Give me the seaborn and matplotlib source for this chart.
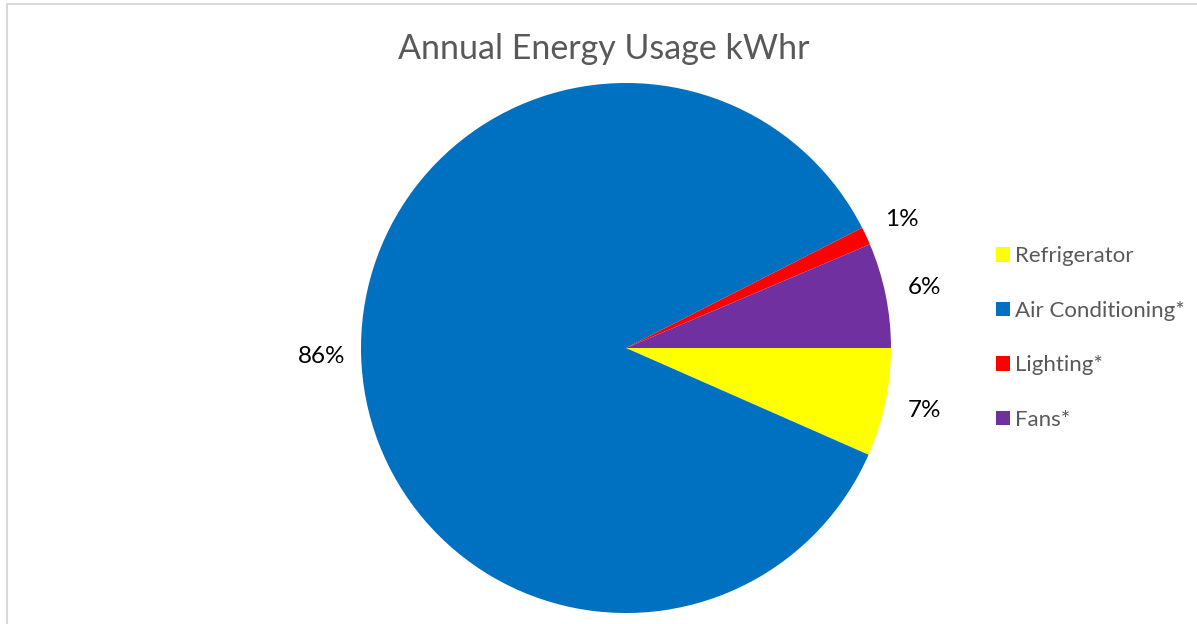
import seaborn as sns
import matplotlib.pyplot as plt
from matplotlib.patches import Patch
from matplotlib.lines import Line2D

# annual energy share (percent of kWhr)
categories = ['Refrigerator', 'Air Conditioning*', 'Lighting*', 'Fans*']
usage = [6.6, 85.9, 1.1, 6.4]
colors = ['#FFFF00', '#0070C0', '#FF0000', '#7030A0']

sns.set_theme(style="white")
plt.rcParams['font.family'] = ['Lato', 'DejaVu Sans']

W, H = 1197, 624
fig = plt.figure(figsize=(W / 100, H / 100), dpi=100)
fig.patch.set_facecolor('white')

# pie centre (626, 348) px, radius 265 px
cx, cy, r = 626, 348, 265
ax = fig.add_axes([(cx - r) / W, (H - cy - r) / H, 2 * r / W, 2 * r / H])
wedges, texts, autotexts = ax.pie(usage, colors=colors, startangle=0, counterclock=False,
                                  autopct='%.0f%%', pctdistance=1.15,
                                  wedgeprops=dict(linewidth=0),
                                  textprops=dict(fontsize=17.5, color='black'))
ax.set_xlim(-1, 1)
ax.set_ylim(-1, 1)
ax.axis('off')

fig.text(604 / W, 1 - 49 / H, 'Annual Energy Usage kWhr', ha='center', va='center',
         fontsize=24.5, color='#595959')

handles = [Patch(facecolor=c, edgecolor='none') for c in colors]
leg = fig.legend(handles, categories, loc='center left', bbox_to_anchor=(985 / W, 1 - 338 / H),
                 frameon=False, fontsize=16, handlelength=0.62, handleheight=0.62,
                 handletextpad=0.25, labelspacing=1.55, borderpad=0)
for t in leg.get_texts():
    t.set_color('#595959')

# light frame on the left and top
fig.add_artist(Line2D([7 / W, 7 / W], [0, 1 - 4 / H], color='#D9D9D9', lw=1.5))
fig.add_artist(Line2D([7 / W, 1], [1 - 4 / H, 1 - 4 / H], color='#D9D9D9', lw=1.5))

fig.savefig('out.png', dpi=100, facecolor='white')
